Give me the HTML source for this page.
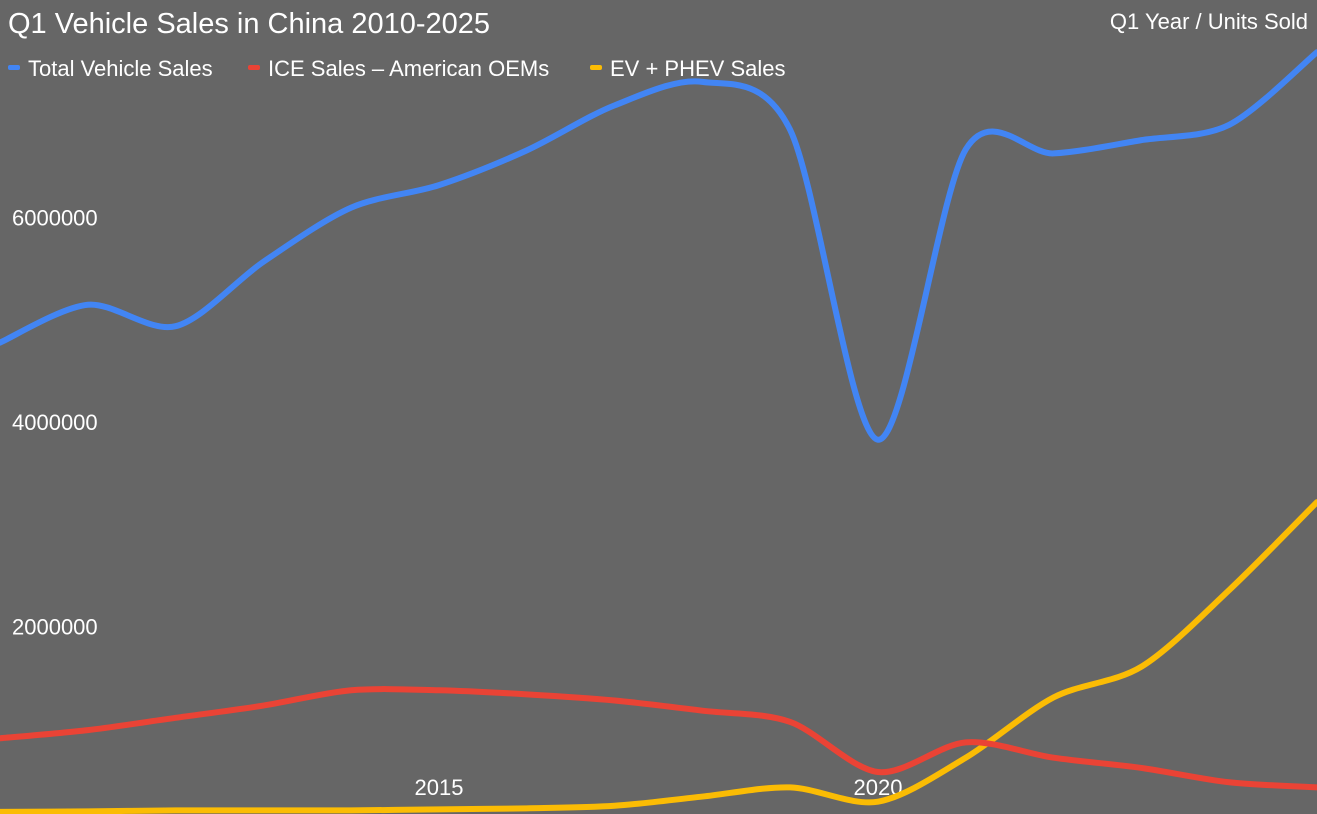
<!DOCTYPE html>
<html><head><meta charset="utf-8"><style>
html,body{margin:0;padding:0;background:#666666;}
svg{display:block;font-family:"Liberation Sans",Arial,sans-serif;}
</style></head><body>
<svg id="chart" width="1317" height="814">
<rect width="1317" height="814" fill="#666666"/>
<text x="8" y="33" font-size="29" fill="#fff">Q1 Vehicle Sales in China 2010-2025</text>
<text x="1308" y="29" font-size="22" fill="#fff" text-anchor="end">Q1 Year / Units Sold</text>
<g id="legend"></g>
<g id="yaxis"></g>
<g id="xaxis"></g>
<g id="series"></g>
</svg>
<script>
const years = [2010,2011,2012,2013,2014,2015,2016,2017,2018,2019,2020,2021,2022,2023,2024,2025];
const totalSales = [4630000,5000000,4790000,5420000,5950000,6170000,6510000,6950000,7180000,6710000,3680000,6520000,6480000,6610000,6760000,7470000];
const iceSales = [760000,840000,960000,1080000,1230000,1230000,1190000,1130000,1030000,920000,430000,720000,570000,470000,330000,280000];
const evSales = [40000,45000,55000,55000,55000,65000,75000,100000,190000,280000,140000,570000,1160000,1460000,2210000,3070000];
const yTicks = [2000000,4000000,6000000];
const xTickLabels = [2015,2020];
const seriesNames = ["Total Vehicle Sales","ICE Sales – American OEMs","EV + PHEV Sales"];
const colors = ["#4285f4","#ea4335","#fbbc04"];
const NS="http://www.w3.org/2000/svg";
function xs(yr){return (yr-2010)/(2025-2010)*1317;}
function ys(v){return 816 - v/2000000*204.5;}
function mk(tag,attrs,parent){const e=document.createElementNS(NS,tag);for(const k in attrs)e.setAttribute(k,attrs[k]);parent.appendChild(e);return e;}
const yg=document.getElementById('yaxis');
yTicks.forEach(t=>{const e=mk('text',{x:12,y:ys(t)+23,'font-size':22,fill:'#fff'},yg);


e.textContent=t;});
const xg=document.getElementById('xaxis');
xTickLabels.forEach(t=>{const e=mk('text',{x:xs(t),y:795,'font-size':22,fill:'#fff','text-anchor':'middle'},xg);


e.textContent=t;});
function path(vals){const p=vals.map((v,i)=>[xs(years[i]),ys(v)]);let d=`M${p[0][0]},${p[0][1]}`;
for(let i=0;i<p.length-1;i++){const p0=p[i-1]||p[i],p1=p[i],p2=p[i+1],p3=p[i+2]||p2;const t=0.15;
const c1=[p1[0]+(p2[0]-p0[0])*t,p1[1]+(p2[1]-p0[1])*t],c2=[p2[0]-(p3[0]-p1[0])*t,p2[1]-(p3[1]-p1[1])*t];
d+=` C${c1[0]},${c1[1]} ${c2[0]},${c2[1]} ${p2[0]},${p2[1]}`;}return d;}
const sg=document.getElementById('series');
[totalSales,iceSales,evSales].slice().reverse().forEach((vals,ri)=>{const i=2-ri;
const e=mk('path',{d:path(vals),fill:'none',stroke:colors[i],'stroke-width':6,'stroke-linecap':'round'},sg);

});
const lg=document.getElementById('legend');
const lxs=[8,248,590];
seriesNames.forEach((n,i)=>{const lx=lxs[i];const r=mk('rect',{x:lx,y:65,width:12,height:5,rx:2,fill:colors[i]},lg);


const t=mk('text',{x:lx+20,y:76,'font-size':22,fill:'#fff'},lg);


t.textContent=n;});
</script>
</body></html>
